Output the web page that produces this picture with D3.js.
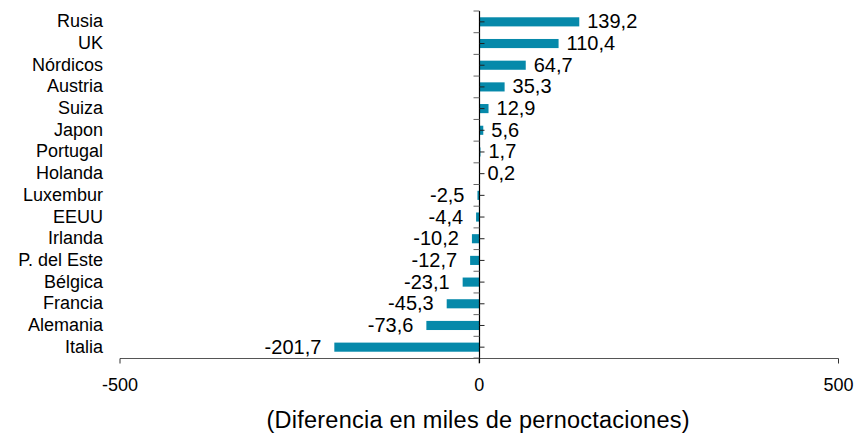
<!DOCTYPE html>
<html>
<head>
<meta charset="utf-8">
<script src="https://cdn.jsdelivr.net/npm/d3@7"></script>
<style>
  body { margin: 0; background: #fff; }
  text { font-family: "Liberation Sans", Arial, sans-serif; fill: #000; }
</style>
</head>
<body>
<svg id="chart" width="854" height="435"></svg>
<script>
'use strict';
// data
var paises = ['Rusia', 'UK', 'Nórdicos', 'Austria', 'Suiza', 'Japon', 'Portugal', 'Holanda',
    'Luxembur', 'EEUU', 'Irlanda', 'P. del Este', 'Bélgica', 'Francia', 'Alemania', 'Italia'];
var diferencias = [139.2, 110.4, 64.7, 35.3, 12.9, 5.6, 1.7, 0.2,
    -2.5, -4.4, -10.2, -12.7, -23.1, -45.3, -73.6, -201.7];
var xTicks = [-500, 0, 500];
var xTitle = '(Diferencia en miles de pernoctaciones)';

var svg = d3.select('#chart');
var x = d3.scaleLinear().domain([-500, 500]).range([120, 838.5]);
var y = d3.scaleBand().domain(paises).range([11, 358]).paddingInner(0.58).paddingOuter(0.29);
var band = d3.scaleBand().domain(paises).range([11, 358]);
// spanish style: comma decimal, plain hyphen minus
var locale = d3.formatLocale({decimal: ',', thousands: '.', grouping: [3], currency: ['', '€'], minus: '-'});
var fmt = locale.format('.1f');
var data = paises.map(function (p, i) { return {name: p, value: diferencias[i]}; });

// bars
svg.append('g').selectAll('rect')
    .data(data)
    .enter().append('rect')
    .attr('x', function (d) { return x(Math.min(0, d.value)); })
    .attr('y', function (d) { return y(d.name); })
    .attr('width', function (d) { return Math.abs(x(d.value) - x(0)); })
    .attr('height', y.bandwidth())
    .attr('fill', '#0689aa');

// bottom axis
var gx = svg.append('g').attr('transform', 'translate(0,358.5)');
gx.append('line').attr('x1', x(-500)).attr('x2', x(500)).attr('stroke', '#555').attr('stroke-width', 1.2);
gx.selectAll('line.tick').data(xTicks).enter().append('line')
    .attr('class', 'tick')
    .attr('x1', function (d) { return x(d); }).attr('x2', function (d) { return x(d); })
    .attr('y1', 0).attr('y2', 5)
    .attr('stroke', '#333');
gx.selectAll('text').data(xTicks).enter().append('text')
    .attr('x', function (d) { return x(d); })
    .attr('y', 32)
    .attr('text-anchor', 'middle')
    .style('font-size', '18px')
    .text(function (d) { return locale.format('d')(d); });

// vertical axis at zero
var x0 = Math.round(x(0)) + 0.5;
var gy = svg.append('g');
gy.append('line').attr('x1', x0).attr('x2', x0).attr('y1', 11).attr('y2', 363).attr('stroke', '#000').attr('stroke-width', 1.2);
var bounds = paises.map(function (p) { return band(p); }).concat([358]);
gy.selectAll('line.minor').data(bounds).enter().append('line')
    .attr('class', 'minor')
    .attr('x1', x0 - 6).attr('x2', x0)
    .attr('y1', function (d) { return d; }).attr('y2', function (d) { return d; })
    .attr('stroke', '#666');
gy.selectAll('line.major').data(paises).enter().append('line')
    .attr('class', 'major')
    .attr('x1', x0).attr('x2', x0 + 5)
    .attr('y1', function (d) { return band(d) + band.bandwidth() / 2; })
    .attr('y2', function (d) { return band(d) + band.bandwidth() / 2; })
    .attr('stroke', '#222');

// category labels
svg.append('g').selectAll('text')
    .data(paises)
    .enter().append('text')
    .attr('x', 103)
    .attr('y', function (d) { return band(d) + band.bandwidth() / 2 + 5.5; })
    .attr('text-anchor', 'end')
    .style('font-size', '18px')
    .text(function (d) { return d; });

// value labels
svg.append('g').selectAll('text')
    .data(data)
    .enter().append('text')
    .attr('x', function (d) { return d.value >= 0 ? x(Math.max(d.value, 0)) + 8 : x(d.value) - 13; })
    .attr('y', function (d) { return band(d.name) + band.bandwidth() / 2 + 6.5; })
    .attr('text-anchor', function (d) { return d.value >= 0 ? 'start' : 'end'; })
    .style('font-size', '20px')
    .text(function (d) { return fmt(d.value); });

// axis title
svg.append('text')
    .attr('x', 478)
    .attr('y', 428)
    .attr('text-anchor', 'middle')
    .attr('textLength', 423)
    .attr('lengthAdjust', 'spacing')
    .style('font-size', '23.5px')
    .text(xTitle);
</script>
</body>
</html>
